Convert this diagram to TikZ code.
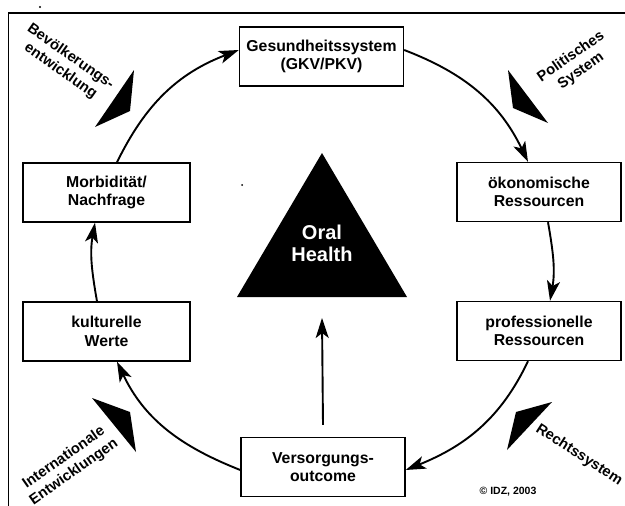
\documentclass[tikz,border=0pt]{standalone}
\usepackage{fontspec}
\setmainfont{Liberation Sans}
\usetikzlibrary{arrows.meta,calc}
\begin{document}
\begin{tikzpicture}[x=1pt,y=1pt,
  box/.style={draw,line width=1.4pt,minimum width=164pt,minimum height=59pt,align=center,inner sep=0pt,font=\bfseries\fontsize{15.8}{18.5}\selectfont},
  arr/.style={line width=1.9pt,-{Stealth[length=20pt,width=13pt,inset=5pt]}},
  wedge/.style={fill=black},
  side/.style={align=center,inner sep=0pt,font=\bfseries\fontsize{14.7}{17.5}\selectfont},
  frame/.style={line width=1.4pt}]
\useasboundingbox (0,0) rectangle (625,-506);
% frame
\draw[frame] (8.5,-506) -- (8.5,-13) -- (625,-13);
\fill (40,-7) circle (1.2pt);
\fill (242,-185) circle (1pt);
% boxes
\node[box] (gesund) at (321.5,-56.5) {Gesundheitssystem\\(GKV/PKV)};
\node[box] (oekon) at (539,-192) {ökonomische\\Ressourcen};
\node[box] (prof) at (539,-331) {professionelle\\Ressourcen};
\node[box] (vers) at (323,-467) {Versorgungs-\\outcome};
\node[box,minimum width=167pt] (kult) at (106.5,-331.5) {kulturelle\\Werte};
\node[box,minimum width=167pt] (morb) at (106.5,-192.5) {Morbidität/\\Nachfrage};
% central triangle
\fill (322,-153) -- (407,-297) -- (237,-297) -- cycle;
\coordinate (tribase) at (322,-297);
\node[text=white,align=center,inner sep=0pt,font=\bfseries\fontsize{20}{22}\selectfont] (oral) at (322,-243) {Oral\\Health};
% cycle arrows
\draw[arr] ($(morb.north)+(10.5,0)$) to[out=64,in=201] ($(gesund.west)+(0,6.5)$);
\draw[arr] ($(gesund.east)+(0,6.5)$) to[out=-21,in=115.7] ($(oekon.north)+(-11,0)$);
\draw[arr] ($(oekon.south)+(9,0)$) to[out=-80,in=80] ($(prof.north)+(11,0)$);
\draw[arr] ($(prof.south)+(-11,0)$) to[out=-115.4,in=22] ($(vers.east)+(0,-3)$);
\draw[arr] ($(vers.west)+(0,-3)$) to[out=158.5,in=-64.5] ($(kult.south)+(10.5,0)$);
\draw[arr] ($(kult.north)+(-9.5,0)$) to[out=100,in=-100] ($(morb.south)+(-11.5,0)$);
% vertical arrow
\draw[arr] ($(vers.north)+(0,12)$) -- ($(tribase)+(0,-21)$);
% wedges
\fill[wedge] (134,-70) -- (130,-111) -- (95,-127) -- cycle;
\fill[wedge] (508,-70) -- (513,-108) -- (548,-123) -- cycle;
\fill[wedge] (92,-398) -- (130,-412) -- (136,-452) -- cycle;
\fill[wedge] (552,-402) -- (516,-412) -- (507,-450) -- cycle;
% side labels
\node[side,rotate=-35] (bev) at (65.5,-64) {Bevölkerungs-\\entwicklung};
\node[side,rotate=35] (pol) at (576,-64) {Politisches\\System};
\node[side,rotate=35] (int) at (69,-465) {Internationale\\Entwicklungen};
\node[side,rotate=-33] (recht) at (579,-455) {Rechtssystem};
\node[inner sep=0pt,font=\bfseries\fontsize{10.5}{12}\selectfont] (idz) at (508,-492) {© IDZ, 2003};
\end{tikzpicture}
\end{document}
